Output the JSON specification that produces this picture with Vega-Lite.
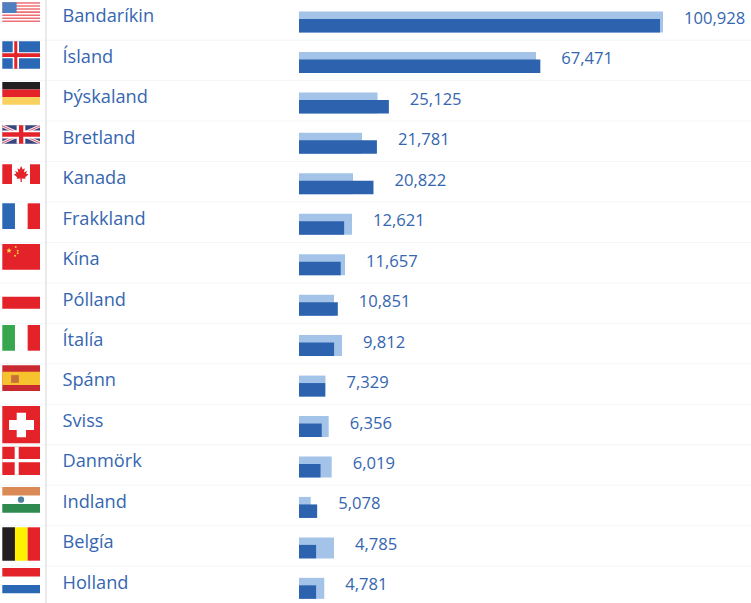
{
  "$schema": "https://vega.github.io/schema/vega-lite/v6.json",
  "width": 751,
  "height": 603,
  "padding": 0,
  "autosize": {"type": "none"},
  "background": "white",
  "config": {"view": {"stroke": null}},
  "datasets": {
    "countries": [
      {"name": "Bandaríkin", "row": 0, "value": 100928, "previous": 101760},
      {"name": "Ísland", "row": 1, "value": 67471, "previous": 66260},
      {"name": "Þýskaland", "row": 2, "value": 25125, "previous": 21950},
      {"name": "Bretland", "row": 3, "value": 21781, "previous": 17610},
      {"name": "Kanada", "row": 4, "value": 20822, "previous": 15100},
      {"name": "Frakkland", "row": 5, "value": 12621, "previous": 14820},
      {"name": "Kína", "row": 6, "value": 11657, "previous": 12860},
      {"name": "Pólland", "row": 7, "value": 10851, "previous": 9785},
      {"name": "Ítalía", "row": 8, "value": 9812, "previous": 12020},
      {"name": "Spánn", "row": 9, "value": 7329, "previous": 7400},
      {"name": "Sviss", "row": 10, "value": 6356, "previous": 8300},
      {"name": "Danmörk", "row": 11, "value": 6019, "previous": 9140},
      {"name": "Indland", "row": 12, "value": 5078, "previous": 3270},
      {"name": "Belgía", "row": 13, "value": 4785, "previous": 9780},
      {"name": "Holland", "row": 14, "value": 4781, "previous": 7070}
    ],
    "flagParts": [
      {"flag": "US", "tint": "white", "u0": 0, "u1": 1, "v0": -0.438, "v1": 0.049},
      {"flag": "US", "tint": "softred", "u0": 0, "u1": 1, "v0": -0.438, "v1": -0.4},
      {"flag": "US", "tint": "softred", "u0": 0, "u1": 1, "v0": -0.363, "v1": -0.325},
      {"flag": "US", "tint": "softred", "u0": 0, "u1": 1, "v0": -0.288, "v1": -0.25},
      {"flag": "US", "tint": "softred", "u0": 0, "u1": 1, "v0": -0.213, "v1": -0.175},
      {"flag": "US", "tint": "softred", "u0": 0, "u1": 1, "v0": -0.138, "v1": -0.1},
      {"flag": "US", "tint": "softred", "u0": 0, "u1": 1, "v0": -0.063, "v1": -0.025},
      {"flag": "US", "tint": "softred", "u0": 0, "u1": 1, "v0": 0.012, "v1": 0.049},
      {"flag": "US", "tint": "canton", "u0": 0, "u1": 0.38, "v0": -0.438, "v1": -0.175},
      {"flag": "IS", "tint": "blue", "u0": 0, "u1": 1, "v0": 0.527, "v1": 1.205},
      {"flag": "IS", "tint": "white", "u0": 0, "u1": 1, "v0": 0.798, "v1": 0.947},
      {"flag": "IS", "tint": "white", "u0": 0.276, "u1": 0.443, "v0": 0.527, "v1": 1.205},
      {"flag": "IS", "tint": "red", "u0": 0, "u1": 1, "v0": 0.823, "v1": 0.915},
      {"flag": "IS", "tint": "red", "u0": 0.318, "u1": 0.398, "v0": 0.527, "v1": 1.205},
      {"flag": "DE", "tint": "black", "u0": 0, "u1": 1, "v0": 1.533, "v1": 1.72},
      {"flag": "DE", "tint": "red", "u0": 0, "u1": 1, "v0": 1.72, "v1": 1.906},
      {"flag": "DE", "tint": "gold", "u0": 0, "u1": 1, "v0": 1.906, "v1": 2.094},
      {"flag": "CA", "tint": "red", "u0": 0, "u1": 0.257, "v0": 3.567, "v1": 4.055},
      {"flag": "CA", "tint": "red", "u0": 0.735, "u1": 1, "v0": 3.567, "v1": 4.055},
      {"flag": "FR", "tint": "blue", "u0": 0, "u1": 0.336, "v0": 4.532, "v1": 5.168},
      {"flag": "FR", "tint": "red", "u0": 0.672, "u1": 1, "v0": 4.532, "v1": 5.168},
      {"flag": "CN", "tint": "red", "u0": 0, "u1": 1, "v0": 5.537, "v1": 6.173},
      {"flag": "PL", "tint": "red", "u0": 0, "u1": 1, "v0": 6.84, "v1": 7.137},
      {"flag": "IT", "tint": "green", "u0": 0, "u1": 0.336, "v0": 7.54, "v1": 8.175},
      {"flag": "IT", "tint": "red", "u0": 0.672, "u1": 1, "v0": 7.54, "v1": 8.175},
      {"flag": "ES", "tint": "brick", "u0": 0, "u1": 1, "v0": 8.536, "v1": 9.171},
      {"flag": "ES", "tint": "amber", "u0": 0, "u1": 1, "v0": 8.695, "v1": 9.023},
      {"flag": "CH", "tint": "red", "u0": 0, "u1": 1, "v0": 9.542, "v1": 10.465},
      {"flag": "CH", "tint": "white", "u0": 0.178, "u1": 0.841, "v0": 9.888, "v1": 10.135},
      {"flag": "CH", "tint": "white", "u0": 0.382, "u1": 0.629, "v0": 9.708, "v1": 10.316},
      {"flag": "DK", "tint": "red", "u0": 0, "u1": 1, "v0": 10.548, "v1": 11.248},
      {"flag": "DK", "tint": "white", "u0": 0, "u1": 1, "v0": 10.852, "v1": 10.934},
      {"flag": "DK", "tint": "white", "u0": 0.329, "u1": 0.435, "v0": 10.548, "v1": 11.248},
      {"flag": "IN", "tint": "saffron", "u0": 0, "u1": 1, "v0": 11.544, "v1": 11.756},
      {"flag": "IN", "tint": "leaf", "u0": 0, "u1": 1, "v0": 11.967, "v1": 12.179},
      {"flag": "BE", "tint": "black", "u0": 0, "u1": 0.336, "v0": 12.541, "v1": 13.366},
      {"flag": "BE", "tint": "yellow", "u0": 0.336, "u1": 0.672, "v0": 12.541, "v1": 13.366},
      {"flag": "BE", "tint": "red", "u0": 0.672, "u1": 1, "v0": 12.541, "v1": 13.366},
      {"flag": "NL", "tint": "red", "u0": 0, "u1": 1, "v0": 13.547, "v1": 13.757},
      {"flag": "NL", "tint": "blue", "u0": 0, "u1": 1, "v0": 13.967, "v1": 14.172}
    ],
    "ukBase": [
      {"tint": "navy", "u0": 0, "u1": 1, "v0": 2.603, "v1": 3.058}
    ],
    "ukDiagonals": [
      {"u0": 0, "u1": 1, "v0": 2.62, "v1": 3.04},
      {"u0": 0, "u1": 1, "v0": 3.04, "v1": 2.62}
    ],
    "ukCross": [
      {"tint": "white", "u0": 0, "u1": 1, "v0": 2.732, "v1": 2.93},
      {"tint": "white", "u0": 0.38, "u1": 0.61, "v0": 2.603, "v1": 3.058},
      {"tint": "red", "u0": 0, "u1": 1, "v0": 2.776, "v1": 2.885},
      {"tint": "red", "u0": 0.443, "u1": 0.557, "v0": 2.603, "v1": 3.058}
    ],
    "emblems": [
      {"emblem": "maple", "u": 0.5, "v": 3.807},
      {"emblem": "bigstar", "u": 0.178, "v": 5.703},
      {"emblem": "smallstar", "u": 0.355, "v": 5.611},
      {"emblem": "smallstar", "u": 0.408, "v": 5.703},
      {"emblem": "smallstar", "u": 0.408, "v": 5.767},
      {"emblem": "smallstar", "u": 0.337, "v": 5.827},
      {"emblem": "crest", "u": 0.337, "v": 8.875},
      {"emblem": "chakra", "u": 0.496, "v": 11.858}
    ]
  },
  "resolve": {"scale": {"x": "independent"}},
  "layer": [
    {
      "data": {"name": "countries"},
      "encoding": {
        "y": {"field": "row", "type": "quantitative", "axis": null, "scale": {"domain": [14.412, -0.494], "nice": false, "zero": false, "padding": 0}}
      },
      "layer": [
        {
          "mark": {"type": "rule", "color": "#f3f5f9", "size": 1, "yOffset": 20.2},
          "encoding": {}
        },
        {
          "mark": {"type": "rule", "color": "#e9e9ea", "size": 1.2},
          "encoding": {
            "x": {"datum": -70735, "type": "quantitative", "axis": null, "scale": {"domain": [-83595, 126370], "nice": false, "zero": false}},
            "y": {"value": 0},
            "y2": {"value": 603}
          }
        },
        {
          "mark": {"type": "bar", "orient": "horizontal", "color": "#a3c4e8", "size": 21, "yOffset": 2},
          "encoding": {
            "x": {"field": "previous", "type": "quantitative", "stack": null, "axis": null, "scale": {"domain": [-83595, 126370], "nice": false, "zero": false}}
          }
        },
        {
          "mark": {"type": "bar", "orient": "horizontal", "color": "#2d62ae", "size": 13.5, "yOffset": 5.75},
          "encoding": {
            "x": {"field": "value", "type": "quantitative", "stack": null, "axis": null, "scale": {"domain": [-83595, 126370], "nice": false, "zero": false}}
          }
        },
        {
          "mark": {"type": "text", "align": "left", "baseline": "middle", "font": "Open Sans", "fontSize": 18.2, "color": "#3566b0", "yOffset": -2.6},
          "encoding": {
            "x": {"datum": -66120, "type": "quantitative", "axis": null, "scale": {"domain": [-83595, 126370], "nice": false, "zero": false}},
            "text": {"field": "name", "type": "nominal"}
          }
        },
        {
          "transform": [
            {"fold": ["value", "previous"], "as": ["series", "amount"]},
            {"aggregate": [{"op": "max", "field": "amount", "as": "end"}], "groupby": ["name", "row", "value"]}
          ],
          "mark": {"type": "text", "align": "left", "baseline": "middle", "font": "Open Sans", "fontSize": 16.6, "color": "#3566b0", "dx": 21, "yOffset": -1},
          "encoding": {
            "x": {"field": "end", "type": "quantitative", "axis": null, "scale": {"domain": [-83595, 126370], "nice": false, "zero": false}},
            "text": {"field": "value", "type": "quantitative", "format": ","}
          }
        }
      ]
    },
    {
      "encoding": {
        "x": {"field": "u0", "type": "quantitative", "axis": null, "scale": {"domain": [-0.061, 19.859], "nice": false, "zero": false}},
        "x2": {"field": "u1"},
        "y": {"field": "v0", "type": "quantitative", "axis": null, "scale": {"domain": [14.412, -0.494], "nice": false, "zero": false, "padding": 0}},
        "y2": {"field": "v1"}
      },
      "layer": [
        {
          "data": {"name": "flagParts"},
          "mark": {"type": "rect"},
          "encoding": {
            "color": {
              "field": "tint",
              "type": "nominal",
              "legend": null,
              "scale": {
                "domain": ["white", "softred", "canton", "blue", "red", "black", "gold", "green", "brick", "amber", "saffron", "leaf", "yellow", "navy"],
                "range": ["#ffffff", "#ef6f76", "#4f7fc0", "#2a67b4", "#e42229", "#231f20", "#fad15f", "#36a64f", "#c92a32", "#f6c22d", "#dc8a55", "#2f8a50", "#fff200", "#333f80"]
              }
            }
          }
        },
        {
          "data": {"name": "ukBase"},
          "mark": {"type": "rect", "color": "#38457f"}
        },
        {
          "data": {"name": "ukDiagonals"},
          "mark": {"type": "rule", "color": "#f0e6ea", "size": 3}
        },
        {
          "data": {"name": "ukDiagonals"},
          "mark": {"type": "rule", "color": "#e05a6a", "size": 1}
        },
        {
          "data": {"name": "ukCross"},
          "mark": {"type": "rect"},
          "encoding": {
            "color": {
              "field": "tint",
              "type": "nominal",
              "legend": null,
              "scale": {
                "domain": ["white", "softred", "canton", "blue", "red", "black", "gold", "green", "brick", "amber", "saffron", "leaf", "yellow", "navy"],
                "range": ["#ffffff", "#ef6f76", "#4f7fc0", "#2a67b4", "#e42229", "#231f20", "#fad15f", "#36a64f", "#c92a32", "#f6c22d", "#dc8a55", "#2f8a50", "#fff200", "#333f80"]
              }
            }
          }
        },
        {
          "data": {"name": "emblems"},
          "transform": [{"filter": "datum.emblem === 'maple'"}],
          "mark": {"type": "point", "filled": true, "opacity": 1, "color": "#e42229", "size": 260, "shape": "M0,-1 L.2,-.55 L.45,-.7 L.35,-.2 L.75,-.4 L.6,-.05 L.9,.05 L.5,.4 L.55,.6 L.08,.55 L.08,1 L-.08,1 L-.08,.55 L-.55,.6 L-.5,.4 L-.9,.05 L-.6,-.05 L-.75,-.4 L-.35,-.2 L-.45,-.7 L-.2,-.55 Z"},
          "encoding": {
            "x": {"field": "u", "type": "quantitative", "axis": null, "scale": {"domain": [-0.061, 19.859], "nice": false, "zero": false}},
            "x2": null,
            "y": {"field": "v", "type": "quantitative", "axis": null, "scale": {"domain": [14.412, -0.494], "nice": false, "zero": false, "padding": 0}},
            "y2": null
          }
        },
        {
          "data": {"name": "emblems"},
          "transform": [{"filter": "datum.emblem === 'bigstar'"}],
          "mark": {"type": "point", "filled": true, "opacity": 1, "color": "#fbe04a", "size": 34, "shape": "M0,-1 L.24,-.31 L.95,-.31 L.38,.12 L.59,.81 L0,.4 L-.59,.81 L-.38,.12 L-.95,-.31 L-.24,-.31 Z"},
          "encoding": {
            "x": {"field": "u", "type": "quantitative", "axis": null, "scale": {"domain": [-0.061, 19.859], "nice": false, "zero": false}},
            "x2": null,
            "y": {"field": "v", "type": "quantitative", "axis": null, "scale": {"domain": [14.412, -0.494], "nice": false, "zero": false, "padding": 0}},
            "y2": null
          }
        },
        {
          "data": {"name": "emblems"},
          "transform": [{"filter": "datum.emblem === 'smallstar'"}],
          "mark": {"type": "point", "filled": true, "opacity": 1, "color": "#f6c83c", "size": 4, "shape": "circle"},
          "encoding": {
            "x": {"field": "u", "type": "quantitative", "axis": null, "scale": {"domain": [-0.061, 19.859], "nice": false, "zero": false}},
            "x2": null,
            "y": {"field": "v", "type": "quantitative", "axis": null, "scale": {"domain": [14.412, -0.494], "nice": false, "zero": false, "padding": 0}},
            "y2": null
          }
        },
        {
          "data": {"name": "emblems"},
          "transform": [{"filter": "datum.emblem === 'crest'"}],
          "mark": {"type": "point", "filled": true, "opacity": 1, "color": "#c8703a", "size": 60, "shape": "square"},
          "encoding": {
            "x": {"field": "u", "type": "quantitative", "axis": null, "scale": {"domain": [-0.061, 19.859], "nice": false, "zero": false}},
            "x2": null,
            "y": {"field": "v", "type": "quantitative", "axis": null, "scale": {"domain": [14.412, -0.494], "nice": false, "zero": false, "padding": 0}},
            "y2": null
          }
        },
        {
          "data": {"name": "emblems"},
          "transform": [{"filter": "datum.emblem === 'chakra'"}],
          "mark": {"type": "point", "filled": true, "opacity": 1, "color": "#4f7f9e", "size": 40, "shape": "circle"},
          "encoding": {
            "x": {"field": "u", "type": "quantitative", "axis": null, "scale": {"domain": [-0.061, 19.859], "nice": false, "zero": false}},
            "x2": null,
            "y": {"field": "v", "type": "quantitative", "axis": null, "scale": {"domain": [14.412, -0.494], "nice": false, "zero": false, "padding": 0}},
            "y2": null
          }
        }
      ]
    }
  ]
}
